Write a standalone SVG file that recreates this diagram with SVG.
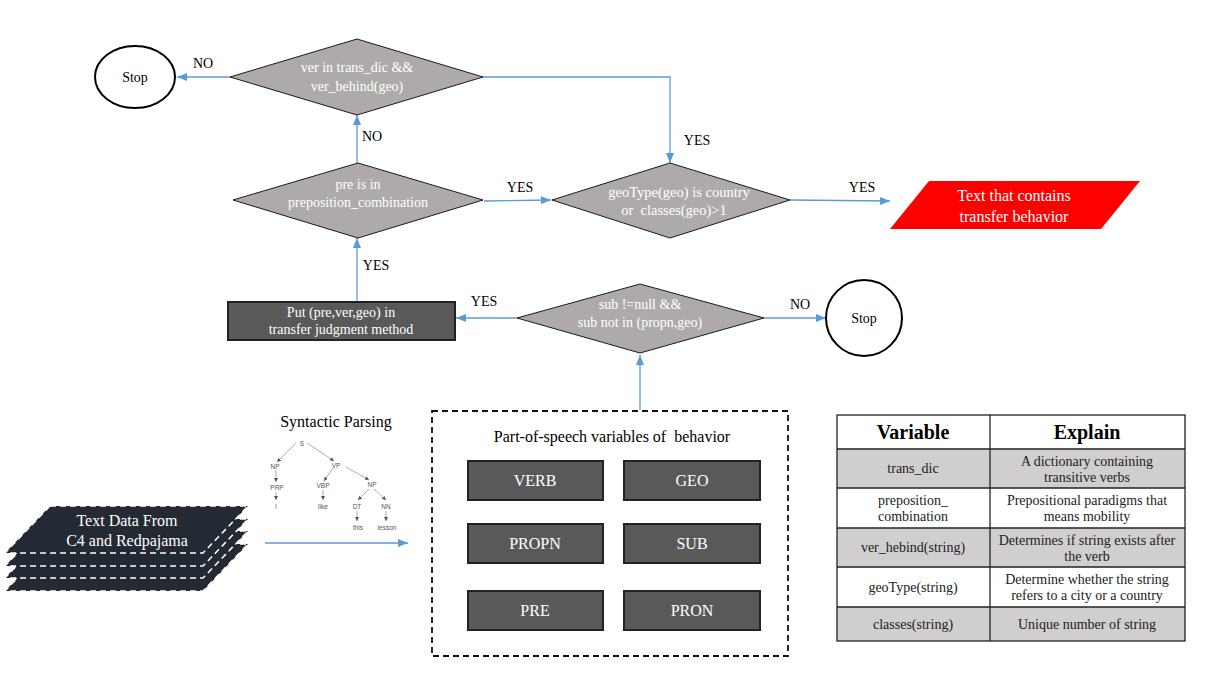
<svg xmlns="http://www.w3.org/2000/svg" width="1228" height="674" viewBox="0 0 1228 674">
<defs>
<marker id="ah" markerWidth="10" markerHeight="8" refX="10" refY="4" orient="auto" markerUnits="userSpaceOnUse">
<path d="M0,0 L10,4 L0,8 Z" fill="#5b9bd5"/>
</marker>
<marker id="sah" markerWidth="4" markerHeight="4" refX="4" refY="2" orient="auto" markerUnits="userSpaceOnUse">
<path d="M0,0 L4,2 L0,4 Z" fill="#555"/>
</marker>
<style>
text{font-family:'Liberation Serif','DejaVu Serif',serif;white-space:pre}
.dia{fill:#aeaaaa;stroke:#1a1a1a;stroke-width:1}
.dt{font-size:14px;fill:#fff;text-anchor:middle}
.dt16{font-size:16px;fill:#fff;text-anchor:middle}
.lbl{font-size:14px;fill:#000;text-anchor:middle}
.lbl16{font-size:16px;fill:#000;text-anchor:middle}
.con{fill:none;stroke:#5b9bd5;stroke-width:1.3;marker-end:url(#ah)}
.stop{fill:#fff;stroke:#000;stroke-width:2}
.box{fill:#595959;stroke:#1f2328;stroke-width:2}
.bt{font-size:16px;fill:#fff;text-anchor:middle}
.tr{font-family:'Liberation Sans',Arial,sans-serif;font-size:6.5px;fill:#555;text-anchor:middle}
.tl{stroke:#777;stroke-width:0.6;marker-end:url(#sah)}
.th{font-size:20px;font-weight:bold;fill:#000;text-anchor:middle}
.tc{font-size:14px;fill:#222;text-anchor:middle}
.layer{fill:#242a33;stroke:#fff;stroke-width:1.5;stroke-dasharray:6 4}
</style>
</defs>
<rect width="1228" height="674" fill="#fff"/>

<g id="connectors">
<path class="con" d="M230,77 L177,77"/>
<path class="con" d="M483,77 L670,77 L670,163"/>
<path class="con" d="M357,163 L357,115"/>
<path class="con" d="M484,201 L551,200"/>
<path class="con" d="M790,200 L890,201"/>
<path class="con" d="M357,302 L357,238"/>
<path class="con" d="M517,318 L456,318"/>
<path class="con" d="M764,318 L826,318"/>
<path class="con" d="M640,410 L640,355"/>
<path class="con" d="M265,543 L408,543"/>
</g>

<g id="labels">
<text class="lbl" x="203" y="68">NO</text>
<text class="lbl" x="697" y="145">YES</text>
<text class="lbl" x="372" y="141">NO</text>
<text class="lbl" x="520" y="192">YES</text>
<text class="lbl" x="862" y="192">YES</text>
<text class="lbl" x="376" y="270">YES</text>
<text class="lbl" x="484" y="306">YES</text>
<text class="lbl" x="800" y="309">NO</text>
</g>

<g id="stop1">
<ellipse class="stop" cx="135" cy="77" rx="40" ry="31"/>
<text class="lbl" x="135" y="82">Stop</text>
</g>

<g id="d-trans">
<polygon class="dia" points="230,77 357,39 483,77 357,115"/>
<text class="dt" x="357" y="72">ver in trans_dic &amp;&amp;</text>
<text class="dt" x="357" y="91">ver_behind(geo)</text>
</g>

<g id="d-pre">
<polygon class="dia" points="233,200 358,163 483,200 358,238"/>
<text class="dt" x="358" y="189">pre is in</text>
<text class="dt" x="358" y="207">preposition_combination</text>
</g>

<g id="d-geo">
<polygon class="dia" points="552,200 670,163 790,200 670,238"/>
<text class="dt" x="679" y="197" style="font-size:14.5px">geoType(geo) is country</text>
<text class="dt" x="674" y="215" style="font-size:14.5px">or  classes(geo)&gt;1</text>
</g>

<g id="result">
<polygon points="929,181 1140,181 1101,229 890,229" fill="#ff0000"/>
<text class="dt16" x="1014" y="201">Text that contains</text>
<text class="dt16" x="1014" y="222">transfer behavior</text>
</g>

<g id="put-box">
<rect x="228" y="302" width="227" height="38" fill="#595959" stroke="#222" stroke-width="2"/>
<text class="dt" x="341" y="317">Put (pre,ver,geo) in</text>
<text class="dt" x="341" y="334">transfer judgment method</text>
</g>

<g id="d-sub">
<polygon class="dia" points="517,318 640,284 764,318 640,353"/>
<text class="dt" x="640" y="309">sub !=null &amp;&amp;</text>
<text class="dt" x="640" y="327">sub not in (propn,geo)</text>
</g>

<g id="stop2">
<circle class="stop" cx="864" cy="318" r="38"/>
<text class="lbl" x="864" y="323">Stop</text>
</g>

<g id="data-stack">
<polygon class="layer" points="50,544 248,544 203,591 5,591"/>
<polygon class="layer" points="50,531 248,531 203,578 5,578"/>
<polygon class="layer" points="50,519 248,519 203,566 5,566"/>
<polygon class="layer" points="50,506 248,506 203,553 5,553"/>
<text class="dt16" x="127" y="526">Text Data From</text>
<text class="dt16" x="127" y="546">C4 and Redpajama</text>
</g>

<g id="syntactic-parsing">
<text class="lbl16" x="336" y="427">Syntactic Parsing</text>
<line class="tl" x1="296" y1="443" x2="277" y2="462"/>
<line class="tl" x1="307" y1="443" x2="334" y2="461"/>
<line class="tl" x1="333" y1="468" x2="324" y2="481"/>
<line class="tl" x1="346" y1="467" x2="369" y2="480"/>
<line class="tl" x1="276" y1="470" x2="276" y2="482"/>
<line class="tl" x1="276" y1="492" x2="276" y2="500"/>
<line class="tl" x1="323" y1="490" x2="323" y2="500"/>
<line class="tl" x1="369" y1="489" x2="358" y2="500"/>
<line class="tl" x1="374" y1="489" x2="386" y2="500"/>
<line class="tl" x1="357" y1="511" x2="357" y2="521"/>
<line class="tl" x1="386" y1="511" x2="386" y2="521"/>
<text class="tr" x="302" y="446">S</text>
<text class="tr" x="275" y="469">NP</text>
<text class="tr" x="336" y="468">VP</text>
<text class="tr" x="277" y="490">PRP</text>
<text class="tr" x="323" y="488">VBP</text>
<text class="tr" x="372" y="487">NP</text>
<text class="tr" x="276" y="509">I</text>
<text class="tr" x="323" y="509">like</text>
<text class="tr" x="357" y="509">DT</text>
<text class="tr" x="386" y="509">NN</text>
<text class="tr" x="358" y="530">this</text>
<text class="tr" x="387" y="530">lesson</text>
</g>

<g id="pos-variables">
<rect x="432" y="411" width="356" height="245" fill="none" stroke="#111" stroke-width="1.8" stroke-dasharray="6 4"/>
<text class="lbl16" x="612" y="442">Part-of-speech variables of  behavior</text>
<g id="verb"><rect class="box" x="468" y="461" width="135" height="39"/><text class="bt" x="535" y="486">VERB</text></g>
<g id="geo"><rect class="box" x="624" y="461" width="136" height="39"/><text class="bt" x="692" y="486">GEO</text></g>
<g id="propn"><rect class="box" x="468" y="524" width="135" height="39"/><text class="bt" x="535" y="549">PROPN</text></g>
<g id="sub"><rect class="box" x="624" y="524" width="136" height="39"/><text class="bt" x="692" y="549">SUB</text></g>
<g id="pre"><rect class="box" x="468" y="591" width="135" height="39"/><text class="bt" x="535" y="616">PRE</text></g>
<g id="pron"><rect class="box" x="624" y="591" width="136" height="39"/><text class="bt" x="692" y="616">PRON</text></g>
</g>

<g id="table">
<rect x="837" y="449" width="348" height="39" fill="#d0cece"/>
<rect x="837" y="528" width="348" height="39" fill="#d0cece"/>
<rect x="837" y="607" width="348" height="34" fill="#d0cece"/>
<g fill="none" stroke="#222" stroke-width="1.3">
<rect x="837" y="415" width="348" height="226"/>
<line x1="990" y1="415" x2="990" y2="641"/>
<line x1="837" y1="449" x2="1185" y2="449"/>
<line x1="837" y1="488" x2="1185" y2="488"/>
<line x1="837" y1="528" x2="1185" y2="528"/>
<line x1="837" y1="567" x2="1185" y2="567"/>
<line x1="837" y1="607" x2="1185" y2="607"/>
</g>
<text class="th" x="913" y="439">Variable</text>
<text class="th" x="1087" y="439">Explain</text>
<text class="tc" x="913" y="473">trans_dic</text>
<text class="tc" x="1087" y="466">A dictionary containing</text>
<text class="tc" x="1087" y="482">transitive verbs</text>
<text class="tc" x="913" y="505">preposition_</text>
<text class="tc" x="913" y="521">combination</text>
<text class="tc" x="1087" y="505">Prepositional paradigms that</text>
<text class="tc" x="1087" y="521">means mobility</text>
<text class="tc" x="913" y="552">ver_hebind(string)</text>
<text class="tc" x="1087" y="545">Determines if string exists after</text>
<text class="tc" x="1087" y="561">the verb</text>
<text class="tc" x="913" y="592">geoType(string)</text>
<text class="tc" x="1087" y="584">Determine whether the string</text>
<text class="tc" x="1087" y="600">refers to a city or a country</text>
<text class="tc" x="913" y="629">classes(string)</text>
<text class="tc" x="1087" y="629">Unique number of string</text>
</g>
</svg>
